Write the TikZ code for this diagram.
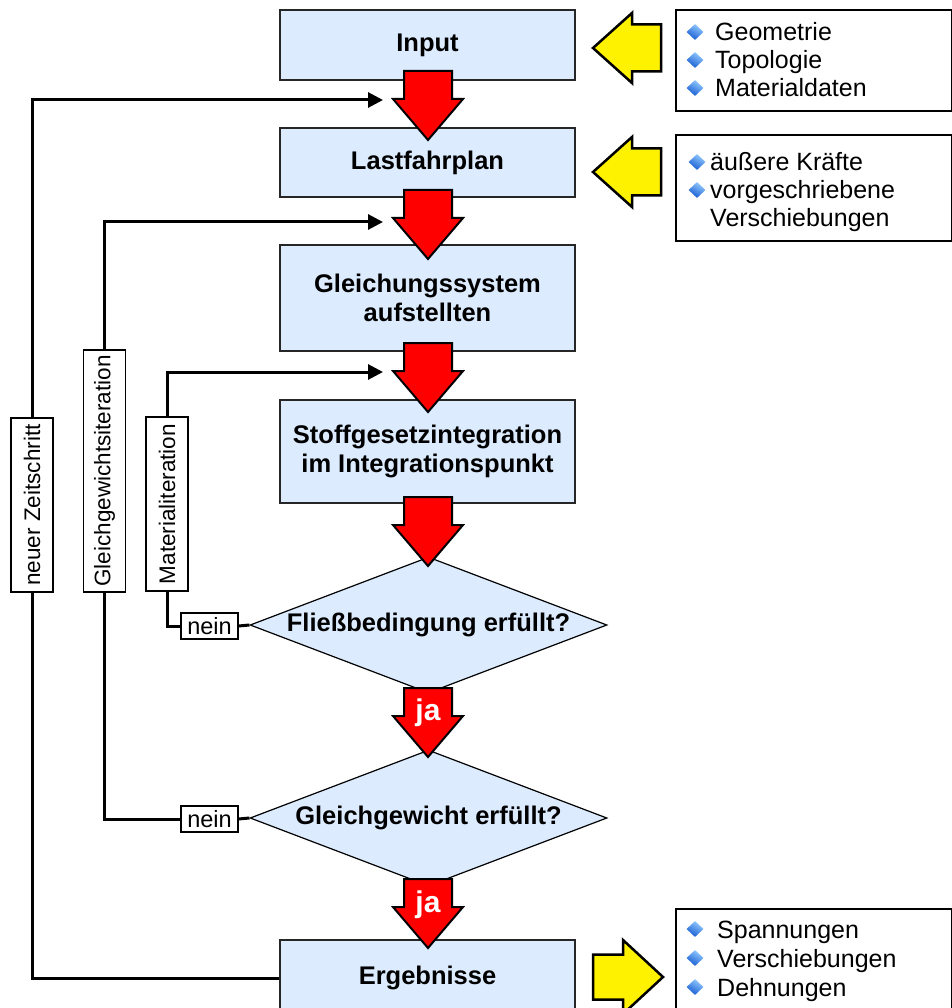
\documentclass[tikz,border=0pt]{standalone}
\usepackage{fontspec}
\setmainfont{Liberation Sans}
\usetikzlibrary{shapes.geometric,arrows.meta}
\definecolor{boxblue}{RGB}{220,235,254}
\definecolor{bulletlight}{RGB}{150,205,255}
\definecolor{bulletdark}{RGB}{20,90,210}
\begin{document}
\begin{tikzpicture}[x=1pt,y=-1pt,
  stepbox/.style={draw=black!85, line width=1.5pt, fill=boxblue, minimum width=295pt,
    inner sep=0pt, align=center, font=\fontsize{25.5}{29.5}\selectfont\bfseries},
  decision/.style={diamond, draw=black, line width=1.2pt, fill=boxblue, aspect=2.625,
    minimum width=357pt, minimum height=136pt, inner sep=0pt,
    font=\fontsize{25.5}{29}\selectfont\bfseries},
  listbox/.style={draw=black, line width=1.6pt, fill=white, inner sep=0pt, minimum width=276pt},
  item/.style={anchor=base west, inner sep=0pt, font=\fontsize{25}{28}\selectfont},
  bulletmark/.style={diamond, inner sep=0pt, minimum width=17pt, minimum height=16pt,
    shading=axis, top color=bulletlight, bottom color=bulletdark, shading angle=-30},
  looplabel/.style={draw=black, line width=1.2pt, fill=white, rotate=90, inner sep=0pt,
    minimum height=42pt, font=\fontsize{22.5}{22.5}\selectfont},
  neinbox/.style={draw=black, line width=1.2pt, fill=white, minimum width=57pt,
    minimum height=26pt, inner sep=0pt, font=\fontsize{23.5}{23.5}\selectfont},
  loopline/.style={line width=3pt},
  looparrow/.style={line width=3pt, -{Triangle[length=15pt,width=15pt]}},
  jalabel/.style={text=white, inner sep=0pt, font=\fontsize{30}{30}\selectfont\bfseries},
  redarr/.pic={
    \draw[fill=red, line width=2pt, line join=miter]
      (-24,0) -- (24,0) -- (24,28) -- (35,28) -- (0,69) -- (-35,28) -- (-24,28) -- cycle;
  },
  yellowleft/.pic={
    \draw[fill=yellow, line width=2.5pt, line join=miter]
      (0,0) -- (39,-35) -- (39,-23.5) -- (68,-23.5) -- (68,23.5) -- (39,23.5) -- (39,35) -- cycle;
  },
  yellowright/.pic={
    \draw[fill=yellow, line width=2.5pt, line join=miter]
      (0,0) -- (-40,-37) -- (-40,-22.5) -- (-70,-22.5) -- (-70,22.5) -- (-40,22.5) -- (-40,37) -- cycle;
  },
]
\useasboundingbox (0,0) rectangle (951,1008);

% main flow
\node[stepbox, minimum height=70pt]  (in)    at (427.5,45)    {Input};
\node[stepbox, minimum height=69pt]  (last)  at (427.5,162.5) {Lastfahrplan};
\node[stepbox, minimum height=106pt] (gls)   at (427.5,298)   {Gleichungssystem\\aufstellten};
\node[stepbox, minimum height=103pt] (stoff) at (427.5,451.5) {Stoffgesetzintegration\\im Integrationspunkt};
\node[decision] (fl) at (428.5,625) {Fließbedingung erfüllt?};
\node[decision] (gg) at (428.5,818) {Gleichgewicht erfüllt?};
\node[stepbox, minimum height=76pt]  (erg)   at (427.5,978)   {Ergebnisse};

% block arrows between the steps
\pic at (428,71)  {redarr};
\pic at (428,190) {redarr};
\pic at (428,343) {redarr};
\pic at (428,497) {redarr};
\pic at (428,688) {redarr};
\pic at (428,879) {redarr};
\node[jalabel] (ja1) at (428,713) {ja};
\node[jalabel] (ja2) at (428,905) {ja};

% iteration loops
\coordinate (tip1) at (383,100);
\coordinate (tip2) at (383,222);
\coordinate (tip3) at (383,372);
\node[looplabel, minimum width=174pt] (lz) at (32,505)    {neuer Zeitschritt};
\node[looplabel, minimum width=242pt] (lg) at (104.5,471) {Gleichgewichtsiteration};
\node[looplabel, minimum width=174pt] (lm) at (167,504)   {Materialiteration};
\node[neinbox] (nein1) at (209.5,626) {nein};
\node[neinbox] (nein2) at (209.5,819) {nein};

\draw[loopline] (fl.west) -- (nein1.east);
\draw[loopline] (nein1.west) -| (lm);
\draw[looparrow] (lm) |- (tip3);
\draw[loopline] (gg.west) -- (nein2.east);
\draw[loopline] (nein2.west) -| (lg);
\draw[looparrow] (lg) |- (tip2);
\draw[loopline] (erg.west) -| (lz);
\draw[looparrow] (lz) |- (tip1);

% input and output lists
\pic at (593,48)  {yellowleft};
\pic at (593,172) {yellowleft};
\pic at (663,977) {yellowright};

\node[listbox, minimum height=101pt] (lst1) at (814,60.5) {};
\node[bulletmark] (b11) at (695,32) {};
\node[item] (t11) at (715,41) {Geometrie};
\node[bulletmark] (b12) at (695,60) {};
\node[item] (t12) at (715,69) {Topologie};
\node[bulletmark] (b13) at (695,88) {};
\node[item] (t13) at (715,97) {Materialdaten};

\node[listbox, minimum height=106pt] (lst2) at (814,188) {};
\node[bulletmark] (b21) at (697,162) {};
\node[item] (t21) at (710,171) {äußere Kräfte};
\node[bulletmark] (b22) at (697,190) {};
\node[item] (t22) at (710,199) {vorgeschriebene};
\node[item] (t23) at (710,227) {Verschiebungen};

\node[listbox, minimum height=111pt] (lst3) at (814,964.5) {};
\node[bulletmark] (b31) at (695,929) {};
\node[item] (t31) at (717,938) {Spannungen};
\node[bulletmark] (b32) at (695,958) {};
\node[item] (t32) at (717,967) {Verschiebungen};
\node[bulletmark] (b33) at (695,987) {};
\node[item] (t33) at (717,996) {Dehnungen};
\end{tikzpicture}
\end{document}
